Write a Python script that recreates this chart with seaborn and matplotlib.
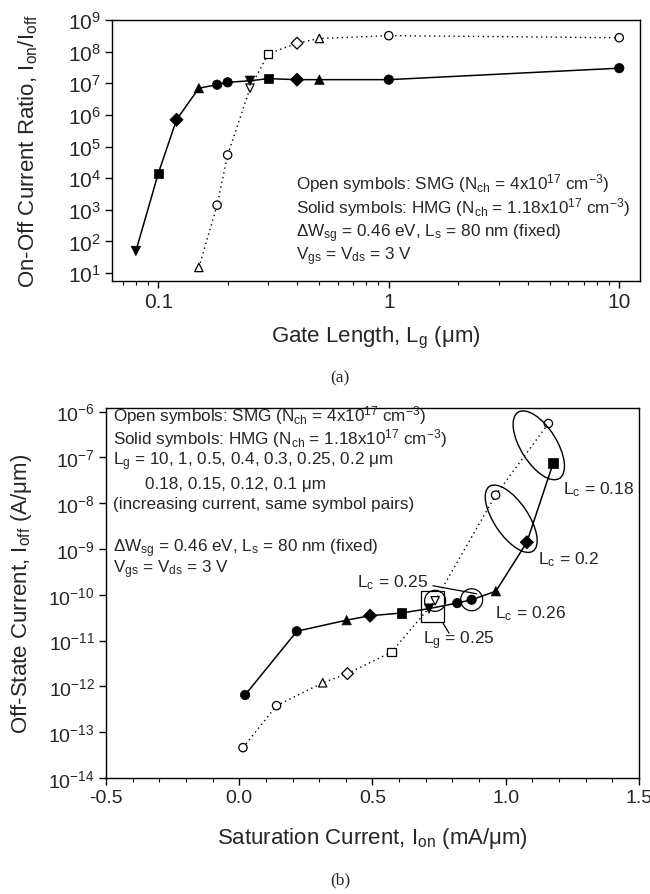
import numpy as np
import pandas as pd
import matplotlib
matplotlib.use("Agg")
import matplotlib.pyplot as plt
import seaborn as sns
from matplotlib.patches import Ellipse, Rectangle, Circle
from matplotlib.lines import Line2D
from matplotlib.transforms import IdentityTransform
from matplotlib.ticker import LogLocator, NullLocator, FuncFormatter, MultipleLocator

# ---------------- data (a): on/off ratio vs gate length ----------------
lg_hmg = [0.08, 0.1, 0.12, 0.15, 0.18, 0.2, 0.25, 0.3, 0.4, 0.5, 1.0, 10.0]
ratio_hmg = [50, 1.4e4, 7e5, 7e6, 9e6, 1.07e7, 1.2e7, 1.4e7, 1.3e7, 1.3e7, 1.3e7, 3e7]
sym_hmg = ['v', 's', 'D', '^', 'o', 'o', 'v', 's', 'D', '^', 'o', 'o']

lg_smg = [0.15, 0.18, 0.2, 0.25, 0.3, 0.4, 0.5, 1.0, 10.0]
ratio_smg = [15, 1.4e3, 5.4e4, 7e6, 8.5e7, 1.85e8, 2.6e8, 3.2e8, 2.75e8]
sym_smg = ['^', 'o', 'o', 'v', 's', 'D', '^', 'o', 'o']

# ---------------- data (b): Ioff vs Ion ----------------
# order: Lg = 10, 1, 0.5, 0.4, 0.3, 0.25, 0.2, 0.18, 0.15, 0.12, 0.1
ion_hmg = [0.022, 0.216, 0.403, 0.491, 0.609, 0.712, 0.818, 0.872, 0.963, 1.079, 1.178]
ioff_hmg = [6.5e-13, 1.6e-11, 2.8e-11, 3.5e-11, 4e-11, 5e-11, 6.6e-11, 7.8e-11, 1.2e-10, 1.4e-9, 7.5e-8]
symb_hmg = ['o', 'o', '^', 'D', 's', 'v', 'o', 'o', '^', 'D', 's']

ion_smg = [0.014, 0.14, 0.313, 0.406, 0.571, 0.735, 0.962, 1.16]
ioff_smg = [4.6e-14, 3.8e-13, 1.2e-12, 1.9e-12, 5.6e-12, 7.4e-11, 1.5e-8, 5.5e-7]
symb_smg = ['o', 'o', '^', 'D', 's', 'v', 'o', 'o']

# ---------------- style ----------------
sns.set_theme(style="white")
plt.rcParams['font.family'] = ['Liberation Sans', 'DejaVu Sans']
plt.rcParams['mathtext.default'] = 'regular'
plt.rcParams['axes.unicode_minus'] = False
plt.rcParams['axes.edgecolor'] = 'black'
plt.rcParams['axes.linewidth'] = 1.0

DOT = (0, (1, 2.5))
markers = {m: m for m in ['o', 's', 'D', '^', 'v']}

fig = plt.figure(figsize=(6.5, 8.95), dpi=100)
ax1 = fig.add_axes([112 / 650, 1 - 282 / 895, 528 / 650, 261 / 895])
ax2 = fig.add_axes([106 / 650, 1 - 779 / 895, 533 / 650, 370 / 895])


def draw_series(ax, x, y, sym, solid):
    df = pd.DataFrame({'x': x, 'y': y, 'sym': sym, 'i': range(len(x))})
    sns.lineplot(data=df, x='x', y='y', sort=False, estimator=None, color='black',
                 lw=1.1 if solid else 1.0, linestyle='-' if solid else DOT, ax=ax,
                 legend=False, zorder=2)
    if solid:
        sns.scatterplot(data=df, x='x', y='y', style='sym', markers=markers, color='black',
                        edgecolor='black', linewidth=0.5, s=46, legend=False, ax=ax, zorder=3)
    else:
        sns.scatterplot(data=df, x='x', y='y', style='sym', markers=markers, color='white',
                        edgecolor='black', linewidth=0.9, s=36, legend=False, ax=ax, zorder=3)


# ---------------- panel (a) ----------------
ax1.set_xscale('log')
ax1.set_yscale('log')
draw_series(ax1, lg_smg, ratio_smg, sym_smg, False)
draw_series(ax1, lg_hmg, ratio_hmg, sym_hmg, True)
ax1.set_xlim(0.063, 12.3)
ax1.set_ylim(5.6, 1e9)
ax1.yaxis.set_major_locator(LogLocator(base=10, numticks=20))
ax1.yaxis.set_minor_locator(NullLocator())
ax1.xaxis.set_major_locator(LogLocator(base=10, numticks=20))
ax1.xaxis.set_minor_locator(LogLocator(base=10, subs=np.arange(2, 10), numticks=20))
ax1.xaxis.set_major_formatter(FuncFormatter(lambda v, p: f"{v:g}"))
ax1.tick_params(axis='both', which='major', direction='out', length=5, width=1,
                labelsize=15, color='black', left=True, bottom=True, pad=3)
ax1.tick_params(axis='x', which='minor', direction='out', length=3, width=0.8,
                color='black', bottom=True)
ax1.set_xlabel('Gate Length, L$_g$ (μm)', fontsize=16)
ax1.set_ylabel('On-Off Current Ratio, I$_{on}$/I$_{off}$', fontsize=16)
ax1.xaxis.set_label_coords(0.5, -0.165)
ax1.yaxis.set_label_coords(-0.136, 0.5)

txt_a = ['Open symbols: SMG (N$_{ch}$ = 4x10$^{17}$ cm$^{-3}$)',
         'Solid symbols: HMG (N$_{ch}$ = 1.18x10$^{17}$ cm$^{-3}$)',
         'ΔW$_{sg}$ = 0.46 eV, L$_s$ = 80 nm (fixed)',
         'V$_{gs}$ = V$_{ds}$ = 3 V']
for t, fy in zip(txt_a, [0.379, 0.287, 0.186, 0.098]):
    ax1.text(0.348, fy, t, transform=ax1.transAxes, fontsize=12.3, va='center', ha='left')

# ---------------- panel (b) ----------------
ax2.set_yscale('log')
draw_series(ax2, ion_smg, ioff_smg, symb_smg, False)
draw_series(ax2, ion_hmg, ioff_hmg, symb_hmg, True)
ax2.set_xlim(-0.5, 1.5)
ax2.set_ylim(1e-14, 1.2e-6)
ax2.yaxis.set_major_locator(LogLocator(base=10, numticks=20))
ax2.yaxis.set_minor_locator(NullLocator())
ax2.xaxis.set_major_locator(MultipleLocator(0.5))
ax2.xaxis.set_minor_locator(MultipleLocator(0.1))
ax2.xaxis.set_major_formatter(FuncFormatter(lambda v, p: f"{v:.1f}"))
ax2.tick_params(axis='both', which='major', direction='out', length=5, width=1,
                labelsize=14, color='black', left=True, bottom=True, pad=3)
ax2.tick_params(axis='x', which='minor', direction='out', length=3, width=0.8,
                color='black', bottom=True)
ax2.set_xlabel('Saturation Current, I$_{on}$ (mA/μm)', fontsize=16)
ax2.set_ylabel('Off-State Current, I$_{off}$ (A/μm)', fontsize=16)
ax2.xaxis.set_label_coords(0.5, -0.127)
ax2.yaxis.set_label_coords(-0.135, 0.5)

txt_b = [(0.013, 0.981, 'Open symbols: SMG (N$_{ch}$ = 4x10$^{17}$ cm$^{-3}$)'),
         (0.013, 0.919, 'Solid symbols: HMG (N$_{ch}$ = 1.18x10$^{17}$ cm$^{-3}$)'),
         (0.013, 0.857, 'L$_g$ = 10, 1, 0.5, 0.4, 0.3, 0.25, 0.2 μm'),
         (0.073, 0.797, '0.18, 0.15, 0.12, 0.1 μm'),
         (0.013, 0.741, '(increasing current, same symbol pairs)'),
         (0.013, 0.622, 'ΔW$_{sg}$ = 0.46 eV, L$_s$ = 80 nm (fixed)'),
         (0.013, 0.565, 'V$_{gs}$ = V$_{ds}$ = 3 V')]
for fx, fy, t in txt_b:
    ax2.text(fx, fy, t, transform=ax2.transAxes, fontsize=12.3, va='center', ha='left')

lab_b = [(0.857, 0.781, 'L$_c$ = 0.18'),
         (0.811, 0.592, 'L$_c$ = 0.2'),
         (0.471, 0.532, 'L$_c$ = 0.25'),
         (0.730, 0.446, 'L$_c$ = 0.26'),
         (0.595, 0.373, 'L$_g$ = 0.25')]
for fx, fy, t in lab_b:
    ax2.text(fx, fy, t, transform=ax2.transAxes, fontsize=12.5, va='center', ha='left')

# annotation shapes, positioned from the data points in pixel space
fig.canvas.draw()
T = ax2.transData
idt = IdentityTransform()


def px(x, y):
    return np.array(T.transform((x, y)))


def ellipse_pair(p1, p2, width, height, angle, off=(0, 0)):
    c = (p1 + p2) / 2 + np.array(off)
    e = Ellipse(c, width, height, angle=angle, transform=idt, fill=False,
                edgecolor='black', lw=1.0, zorder=4, clip_on=False)
    fig.add_artist(e)


# Lc = 0.18 pair (SMG Lg=0.18, HMG Lg=0.1)
p_o18 = px(ion_smg[7], ioff_smg[7])
p_s10 = px(ion_hmg[10], ioff_hmg[10])
ellipse_pair(p_o18, p_s10, 78, 36, -58, off=(-12, -2))
# Lc = 0.2 pair (SMG Lg=0.2, HMG Lg=0.12)
p_o20 = px(ion_smg[6], ioff_smg[6])
p_s12 = px(ion_hmg[9], ioff_hmg[9])
ellipse_pair(p_o20, p_s12, 78, 34, -56)
# circles
p_ov25 = px(ion_smg[5], ioff_smg[5])
p_sv25 = px(ion_hmg[5], ioff_hmg[5])
p_s18 = px(ion_hmg[7], ioff_hmg[7])
fig.add_artist(Circle(p_ov25, 10.5, transform=idt, fill=False, edgecolor='black', lw=0.9, zorder=4))
fig.add_artist(Circle(p_s18, 11, transform=idt, fill=False, edgecolor='black', lw=0.9, zorder=4))
# box around Lg = 0.25 pair
mid = (p_ov25 + p_sv25) / 2 + np.array([0, -1.5])
fig.add_artist(Rectangle((mid[0] - 11.5, mid[1] - 15.5), 23, 31, transform=idt, fill=False,
                         edgecolor='black', lw=0.9, zorder=4))
# leader lines
a = p_s18 + np.array([-38.7, 14])
b = p_s18 + np.array([5, 6])
fig.add_artist(Line2D([a[0], b[0]], [a[1], b[1]], transform=idt, color='black', lw=0.9))
a = mid + np.array([11, -17])
b = mid + np.array([17, -27])
fig.add_artist(Line2D([a[0], b[0]], [a[1], b[1]], transform=idt, color='black', lw=0.9))

# panel captions
fig.text(0.523, 1 - 378 / 895, '(a)', fontsize=12.5, family=['Liberation Serif', 'DejaVu Serif'],
         ha='center', va='center')
fig.text(0.523, 1 - 880 / 895, '(b)', fontsize=12.5, family=['Liberation Serif', 'DejaVu Serif'],
         ha='center', va='center')

fig.savefig('out.png', dpi=100)
